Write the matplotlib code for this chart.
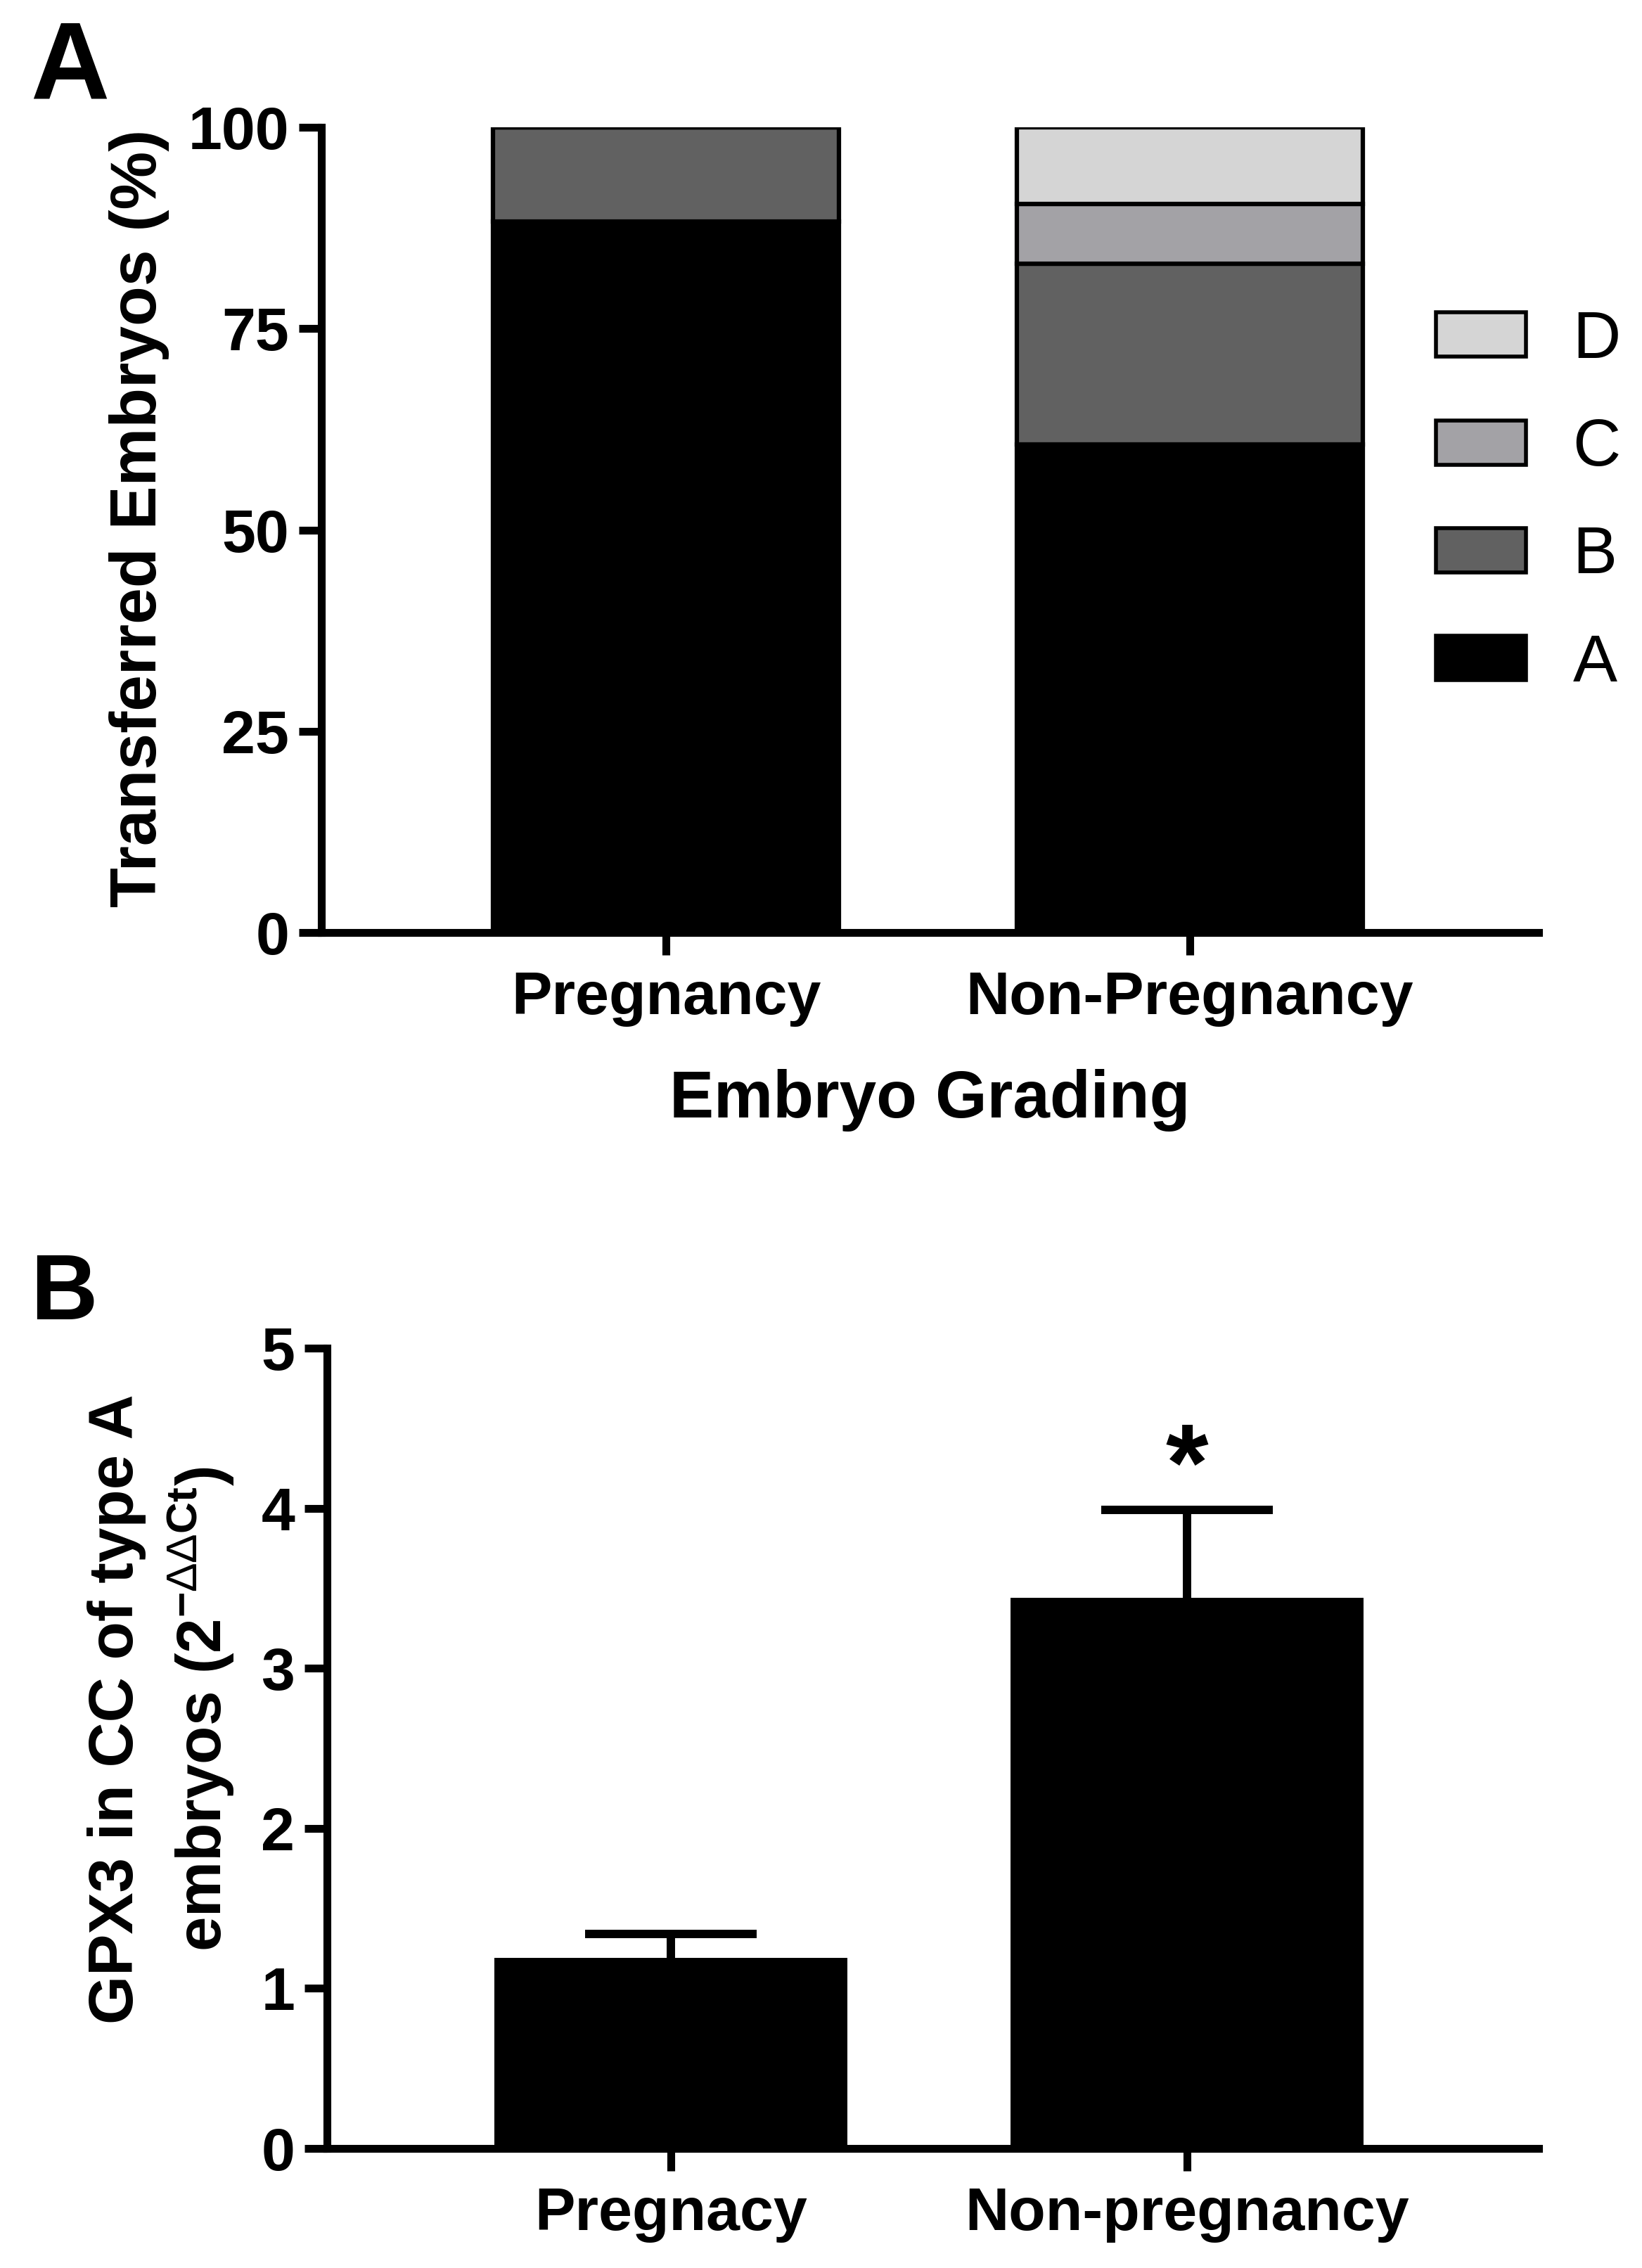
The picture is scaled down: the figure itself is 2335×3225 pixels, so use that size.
import numpy as np
import matplotlib
matplotlib.use("Agg")
import matplotlib.pyplot as plt

plt.rcParams['font.family'] = ['Liberation Sans', 'DejaVu Sans']
plt.rcParams['mathtext.fontset'] = 'custom'
plt.rcParams['mathtext.rm'] = 'Liberation Sans'
plt.rcParams['mathtext.bf'] = 'Liberation Sans:bold'

# --- data panel A (stacked %) ---
groups_a = ["Pregnancy", "Non-Pregnancy"]
grades = ["A", "B", "C", "D"]
grade_a = [88.3, 60.6]
grade_b = [11.7, 22.5]
grade_c = [0.0, 7.4]
grade_d = [0.0, 9.5]
grade_colors = ["#000000", "#616161", "#a3a2a6", "#d5d5d5"]

# --- data panel B (GPX3) ---
groups_b = ["Pregnacy", "Non-pregnancy"]
gpx3_mean = [1.19, 3.44]
gpx3_err = [0.15, 0.55]
sig_mark = ["", "*"]

W, H = 2335, 3225
fig = plt.figure(figsize=(W / 100, H / 100), dpi=100)

def px_axes(l, r, top, bot):
    return fig.add_axes([l / W, 1 - bot / H, (r - l) / W, (bot - top) / H])

def style(ax):
    for s in ["top", "right"]:
        ax.spines[s].set_visible(False)
    for s in ["left", "bottom"]:
        ax.spines[s].set_linewidth(8)
    ax.tick_params(axis="both", width=8, length=23, labelsize=62)
    ax.tick_params(axis="y", pad=10)
    ax.tick_params(axis="x", pad=16)
    for lab in ax.get_xticklabels() + ax.get_yticklabels():
        lab.set_fontweight("bold")

# Panel A
ax1 = px_axes(457, 2188, 181, 1326)
x = np.arange(len(groups_a))
stack = [grade_a, grade_b, grade_c, grade_d]
bottom = np.zeros(len(groups_a))
handles = []
for vals, col, g in zip(stack, grade_colors, grades):
    bc = ax1.bar(x, vals, width=0.66, bottom=bottom, color=col,
                 edgecolor="black", linewidth=4.5, label=g)
    handles.append(bc)
    bottom = bottom + np.array(vals)
ax1.set_xlim(-0.658, 1.666)
ax1.set_ylim(0, 100)
ax1.set_yticks([0, 25, 50, 75, 100])
ax1.set_xticks(x)
ax1.set_xticklabels(groups_a)
style(ax1)
ax1.set_xlabel("Embryo Grading", fontsize=68, fontweight="bold", labelpad=43)
leg = ax1.legend(handles[::-1], grades[::-1], loc="upper left",
                 bbox_to_anchor=(2042 / W, 1 - 440 / H), bbox_transform=fig.transFigure,
                 frameon=False, fontsize=68, handlelength=1.36, handleheight=0.65,
                 handletextpad=0.7, labelspacing=0.68, borderpad=0, borderaxespad=0)
for p in leg.get_patches():
    p.set_linewidth(4)

fig.text(198 / W, 1 - 737 / H, "Transferred Embryos (%)", rotation=90,
         ha="center", va="center", fontsize=67, fontweight="bold")
fig.text(43 / W, 1 - 139 / H, "A", fontsize=112, fontweight="bold", va="baseline")

# Panel B
ax2 = px_axes(465, 2188, 1917, 3055)
xb = np.arange(len(groups_b))
ax2.bar(xb, gpx3_mean, width=0.684, color="black", zorder=3)
eb = ax2.errorbar(xb, gpx3_mean, yerr=[np.zeros(len(xb)), gpx3_err], fmt="none",
                  ecolor="black", elinewidth=8.6, capsize=88, capthick=8.6, zorder=2)
eb[1][0].set_visible(False)
for xi, m, e, s in zip(xb, gpx3_mean, gpx3_err, sig_mark):
    if s:
        ax2.text(xi, m + e + 0.06, s, ha="center", va="baseline", fontsize=112,
                 fontweight="bold")
ax2.set_xlim(-0.666, 1.681)
ax2.set_ylim(0, 5)
ax2.set_yticks(range(6))
ax2.set_xticks(xb)
ax2.set_xticklabels(groups_b)
style(ax2)

fig.text(230 / W, 1 - 2430 / H,
         "GPX3 in CC of type A\nembryos (2$^{\\mathbf{-}\\Delta\\Delta\\mathbf{Ct}}$)",
         rotation=90, ha="center", va="center", fontsize=64, fontweight="bold",
         linespacing=1.35)
fig.text(43 / W, 1 - 1876 / H, "B", fontsize=95, fontweight="bold", va="baseline")

fig.savefig("out.png", dpi=100)
